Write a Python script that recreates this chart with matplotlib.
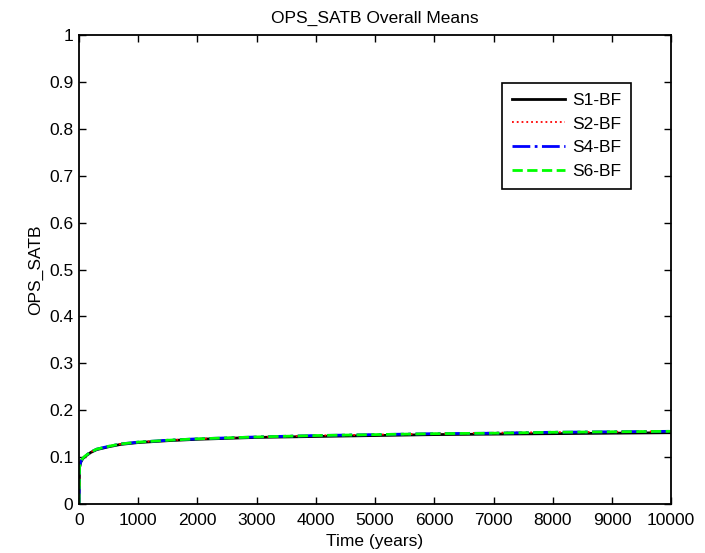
import matplotlib
matplotlib.use('Agg')
import matplotlib.pyplot as plt

plt.rcParams['font.family'] = ['Liberation Sans', 'DejaVu Sans']
plt.rcParams['font.size'] = 12.5

## Data

time = [0, 10, 30, 60, 100, 200, 300, 500, 700, 1000, 1500, 2000, 2500, 3000,
        4000, 5000, 6000, 7000, 8000, 9000, 10000]
s1 = [0.0, 0.078, 0.089, 0.096, 0.101, 0.110, 0.116, 0.122, 0.127, 0.131, 0.135,
      0.138, 0.140, 0.142, 0.144, 0.146, 0.148, 0.149, 0.150, 0.151, 0.152]
s2 = [0.0, 0.079, 0.090, 0.097, 0.102, 0.111, 0.117, 0.123, 0.128, 0.132, 0.136,
      0.139, 0.141, 0.143, 0.146, 0.148, 0.150, 0.152, 0.153, 0.154, 0.155]
s4 = [0.0, 0.079, 0.090, 0.097, 0.102, 0.111, 0.117, 0.123, 0.128, 0.132, 0.136,
      0.139, 0.141, 0.143, 0.146, 0.148, 0.150, 0.151, 0.153, 0.154, 0.155]
s6 = [0.0, 0.079, 0.090, 0.097, 0.102, 0.111, 0.117, 0.123, 0.128, 0.132, 0.136,
      0.139, 0.141, 0.143, 0.146, 0.148, 0.150, 0.151, 0.153, 0.154, 0.155]

labels = ['S1-BF', 'S2-BF', 'S4-BF', 'S6-BF']
colors = ['black', 'red', 'blue', '#00ff00']
styles = ['-', ':', '-.', '--']
widths = [2, 1.3, 2, 2]

## Plot

fig = plt.figure(figsize=(7.05, 5.53), dpi=100)
ax = fig.add_axes([0.112, 0.0886, 0.840, 0.848])

for y, lab, c, ls, lw in zip([s1, s2, s4, s6], labels, colors, styles, widths):
    ax.plot(time, y, color=c, linestyle=ls, linewidth=lw, label=lab)

ax.set_xlim(0, 10000)
ax.set_ylim(0, 1)
ax.set_xticks(range(0, 10001, 1000))
ax.set_yticks([i / 10 for i in range(11)])
ax.set_yticklabels(['0', '0.1', '0.2', '0.3', '0.4', '0.5', '0.6', '0.7', '0.8', '0.9', '1'])
ax.tick_params(direction='in', top=True, right=True, length=5, width=1, pad=4)
ax.tick_params(axis='x', pad=6.5)
for sp in ax.spines.values():
    sp.set_linewidth(1.3)

ax.set_xlabel('Time (years)', labelpad=4)
ax.set_ylabel('OPS_SATB', labelpad=4)
ax.set_title('OPS_SATB Overall Means', fontsize=12.5, pad=9)

leg = ax.legend(loc='upper left', bbox_to_anchor=(0.7145, 0.8977), fancybox=False,
                edgecolor='black', framealpha=1, handlelength=3.1, handletextpad=0.4,
                borderpad=0.55, labelspacing=0.5, borderaxespad=0)
leg.get_frame().set_linewidth(1.2)

fig.savefig('out.png', dpi=100)
